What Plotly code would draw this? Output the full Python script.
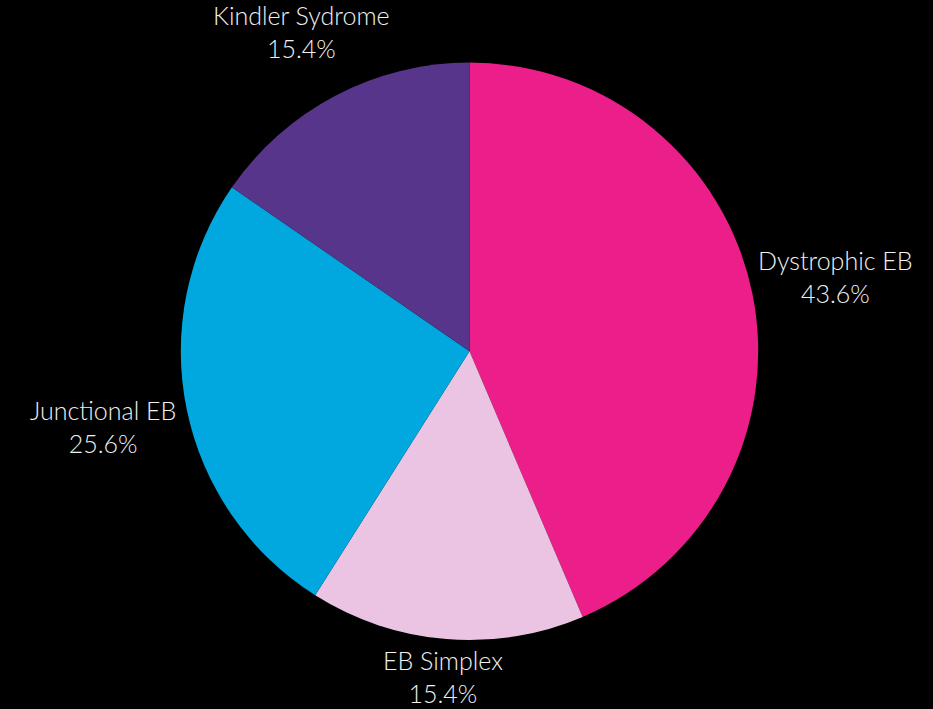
import math
import plotly.graph_objects as go

labels = ["Dystrophic EB", "EB Simplex", "Junctional EB", "Kindler Sydrome"]
values = [17, 6, 10, 6]
colors = ["#EC1F8A", "#EAC4E2", "#00A8DF", "#56358A"]

W, H = 933, 709
CX, CY, R = 469.5, 351.3, 288.7   # pie centre / radius in px
GAP = 8                            # px between pie edge and label box
LINE_H = 58                        # approx label box height (2 lines)
CHAR_W = 11.2                      # approx average glyph width

fig = go.Figure(go.Pie(
    labels=labels,
    values=values,
    sort=False,
    direction="clockwise",
    rotation=0,
    marker=dict(colors=colors, line=dict(width=0)),
    textinfo="none",
    hoverinfo="label+percent",
    showlegend=False,
    domain=dict(x=[(CX - R) / W, (CX + R) / W],
                y=[1 - (CY + R) / H, 1 - (CY - R) / H]),
))

total = sum(values)
cum = 0
for lab, v in zip(labels, values):
    mid = (cum + v / 2) / total * 2 * math.pi
    cum += v
    ux, uy = math.sin(mid), -math.cos(mid)
    w = len(lab) * CHAR_W
    d = R + GAP + abs(ux) * w / 2 + abs(uy) * LINE_H / 2
    px, py = CX + d * ux, CY + d * uy
    # keep each label box inside the canvas
    py = max(LINE_H / 2 + 2, min(py, H - LINE_H / 2 - 4))
    pct = v / total * 100
    fig.add_annotation(
        x=px / W, y=1 - py / H, xref="paper", yref="paper",
        text=f"{lab}<br>{pct:.1f}%",
        showarrow=False, xanchor="center", yanchor="middle", align="center",
        font=dict(family="Lato", size=25, color="#F0F0F0", weight=300),
    )

fig.update_layout(
    width=W, height=H,
    paper_bgcolor="#000000",
    plot_bgcolor="#000000",
    margin=dict(l=0, r=0, t=0, b=0),
)
fig.write_html(
    "out.html",
    config={"displayModeBar": False},
    post_script="document.body.style.margin='0';document.body.style.background='#000';document.body.style.overflow='hidden';",
)
